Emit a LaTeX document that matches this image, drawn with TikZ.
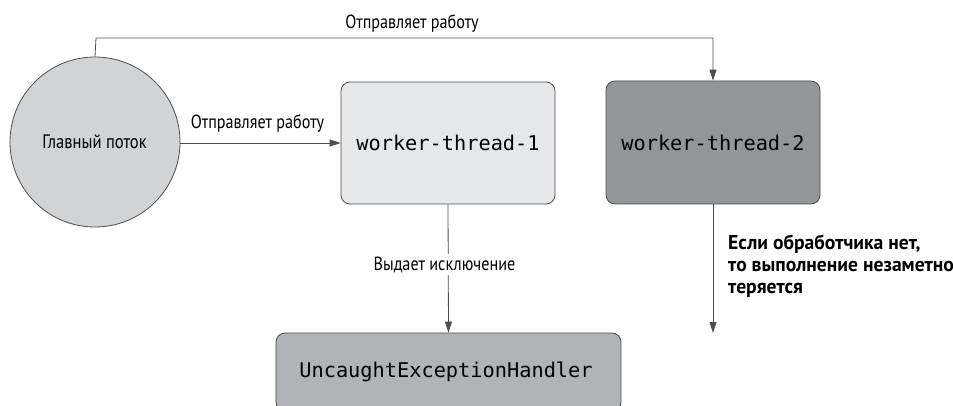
\documentclass[tikz,border=0pt]{standalone}
\usepackage{fontspec}
\setmainfont{PT Sans}
\newfontfamily\labelfont[FakeStretch=0.85]{PT Sans}
\newfontfamily\notefont[FakeStretch=0.98]{PT Sans}
\newfontfamily\codefont{DejaVu Sans Mono}
\usetikzlibrary{arrows.meta}
\definecolor{edge}{HTML}{4D4D4F}
\definecolor{mainfill}{HTML}{D1D3D4}
\definecolor{lightfill}{HTML}{E6E7E8}
\definecolor{darkfill}{HTML}{939598}
\definecolor{midfill}{HTML}{B1B3B6}
\tikzset{
  box/.style={draw=edge, line width=0.8pt, rounded corners=9pt, inner sep=0pt},
  codetext/.style={font=\codefont\fontsize{20.3}{24}\selectfont, text=black},
  lbl/.style={font=\labelfont\fontsize{19}{22}\selectfont, text=black, inner sep=2pt},
  boldlbl/.style={font=\notefont\bfseries\fontsize{20}{22}\selectfont, text=black, align=left, inner sep=0pt},
  conn/.style={draw=edge, line width=0.8pt, -{Triangle[length=11pt,width=7pt]}},
}
\begin{document}
\begin{tikzpicture}[x=1pt,y=-1pt]
  \useasboundingbox (0,0) rectangle (953,406);
  \begin{scope}
    \clip (0,0) rectangle (953,406);

    % main thread
    \node[circle, draw=edge, line width=0.8pt, fill=mainfill, minimum size=170pt, inner sep=0pt]
      (main) at (95,142) {};
    \node[lbl, font=\labelfont\fontsize{19.5}{22}\selectfont] (mainlbl) at (94.5,142) {Главный поток};

    % worker boxes
    \node[box, fill=lightfill, minimum width=214pt, minimum height=122pt] (w1) at (448,143) {};
    \node[codetext] (w1txt) at (w1.center) {worker-thread-1};
    \node[box, fill=darkfill, minimum width=214pt, minimum height=123pt] (w2) at (713,142.5) {};
    \node[codetext] (w2txt) at (w2.center) {worker-thread-2};

    % handler box (runs past the lower edge)
    \node[box, fill=midfill, minimum width=345pt, minimum height=78pt] (ueh) at (448.5,372) {};
    \node[codetext] (uehtxt) at (446,372) {UncaughtExceptionHandler};

    % main -> worker-thread-1
    \draw[conn] (main.east |- w1.west) -- (w1.west);
    \node[lbl, anchor=base] (send1) at (257.5,129) {Отправляет работу};

    % main -> worker-thread-2 over the top
    \coordinate (topL) at (96,38);
    \coordinate (topR) at (w2.north |- topL);
    \draw[conn] (main.north) -- (topL) -- (topR) -- (w2.north);
    \node[lbl, anchor=base] (send2) at (412,29) {Отправляет работу};

    % worker-thread-1 -> handler
    \draw[conn] (w1.south) -- (ueh.north);
    \node[lbl, anchor=base, fill=white, inner sep=3pt] (thr) at (444.5,270) {Выдает исключение};

    % worker-thread-2 -> nowhere
    \coordinate (lost) at (713,333);
    \draw[conn] (w2.south) -- (lost);
    \node[boldlbl, anchor=base west] (note) at (728,293)
      {Если обработчика нет,\\то выполнение незаметно\\теряется};
  \end{scope}
\end{tikzpicture}
\end{document}
